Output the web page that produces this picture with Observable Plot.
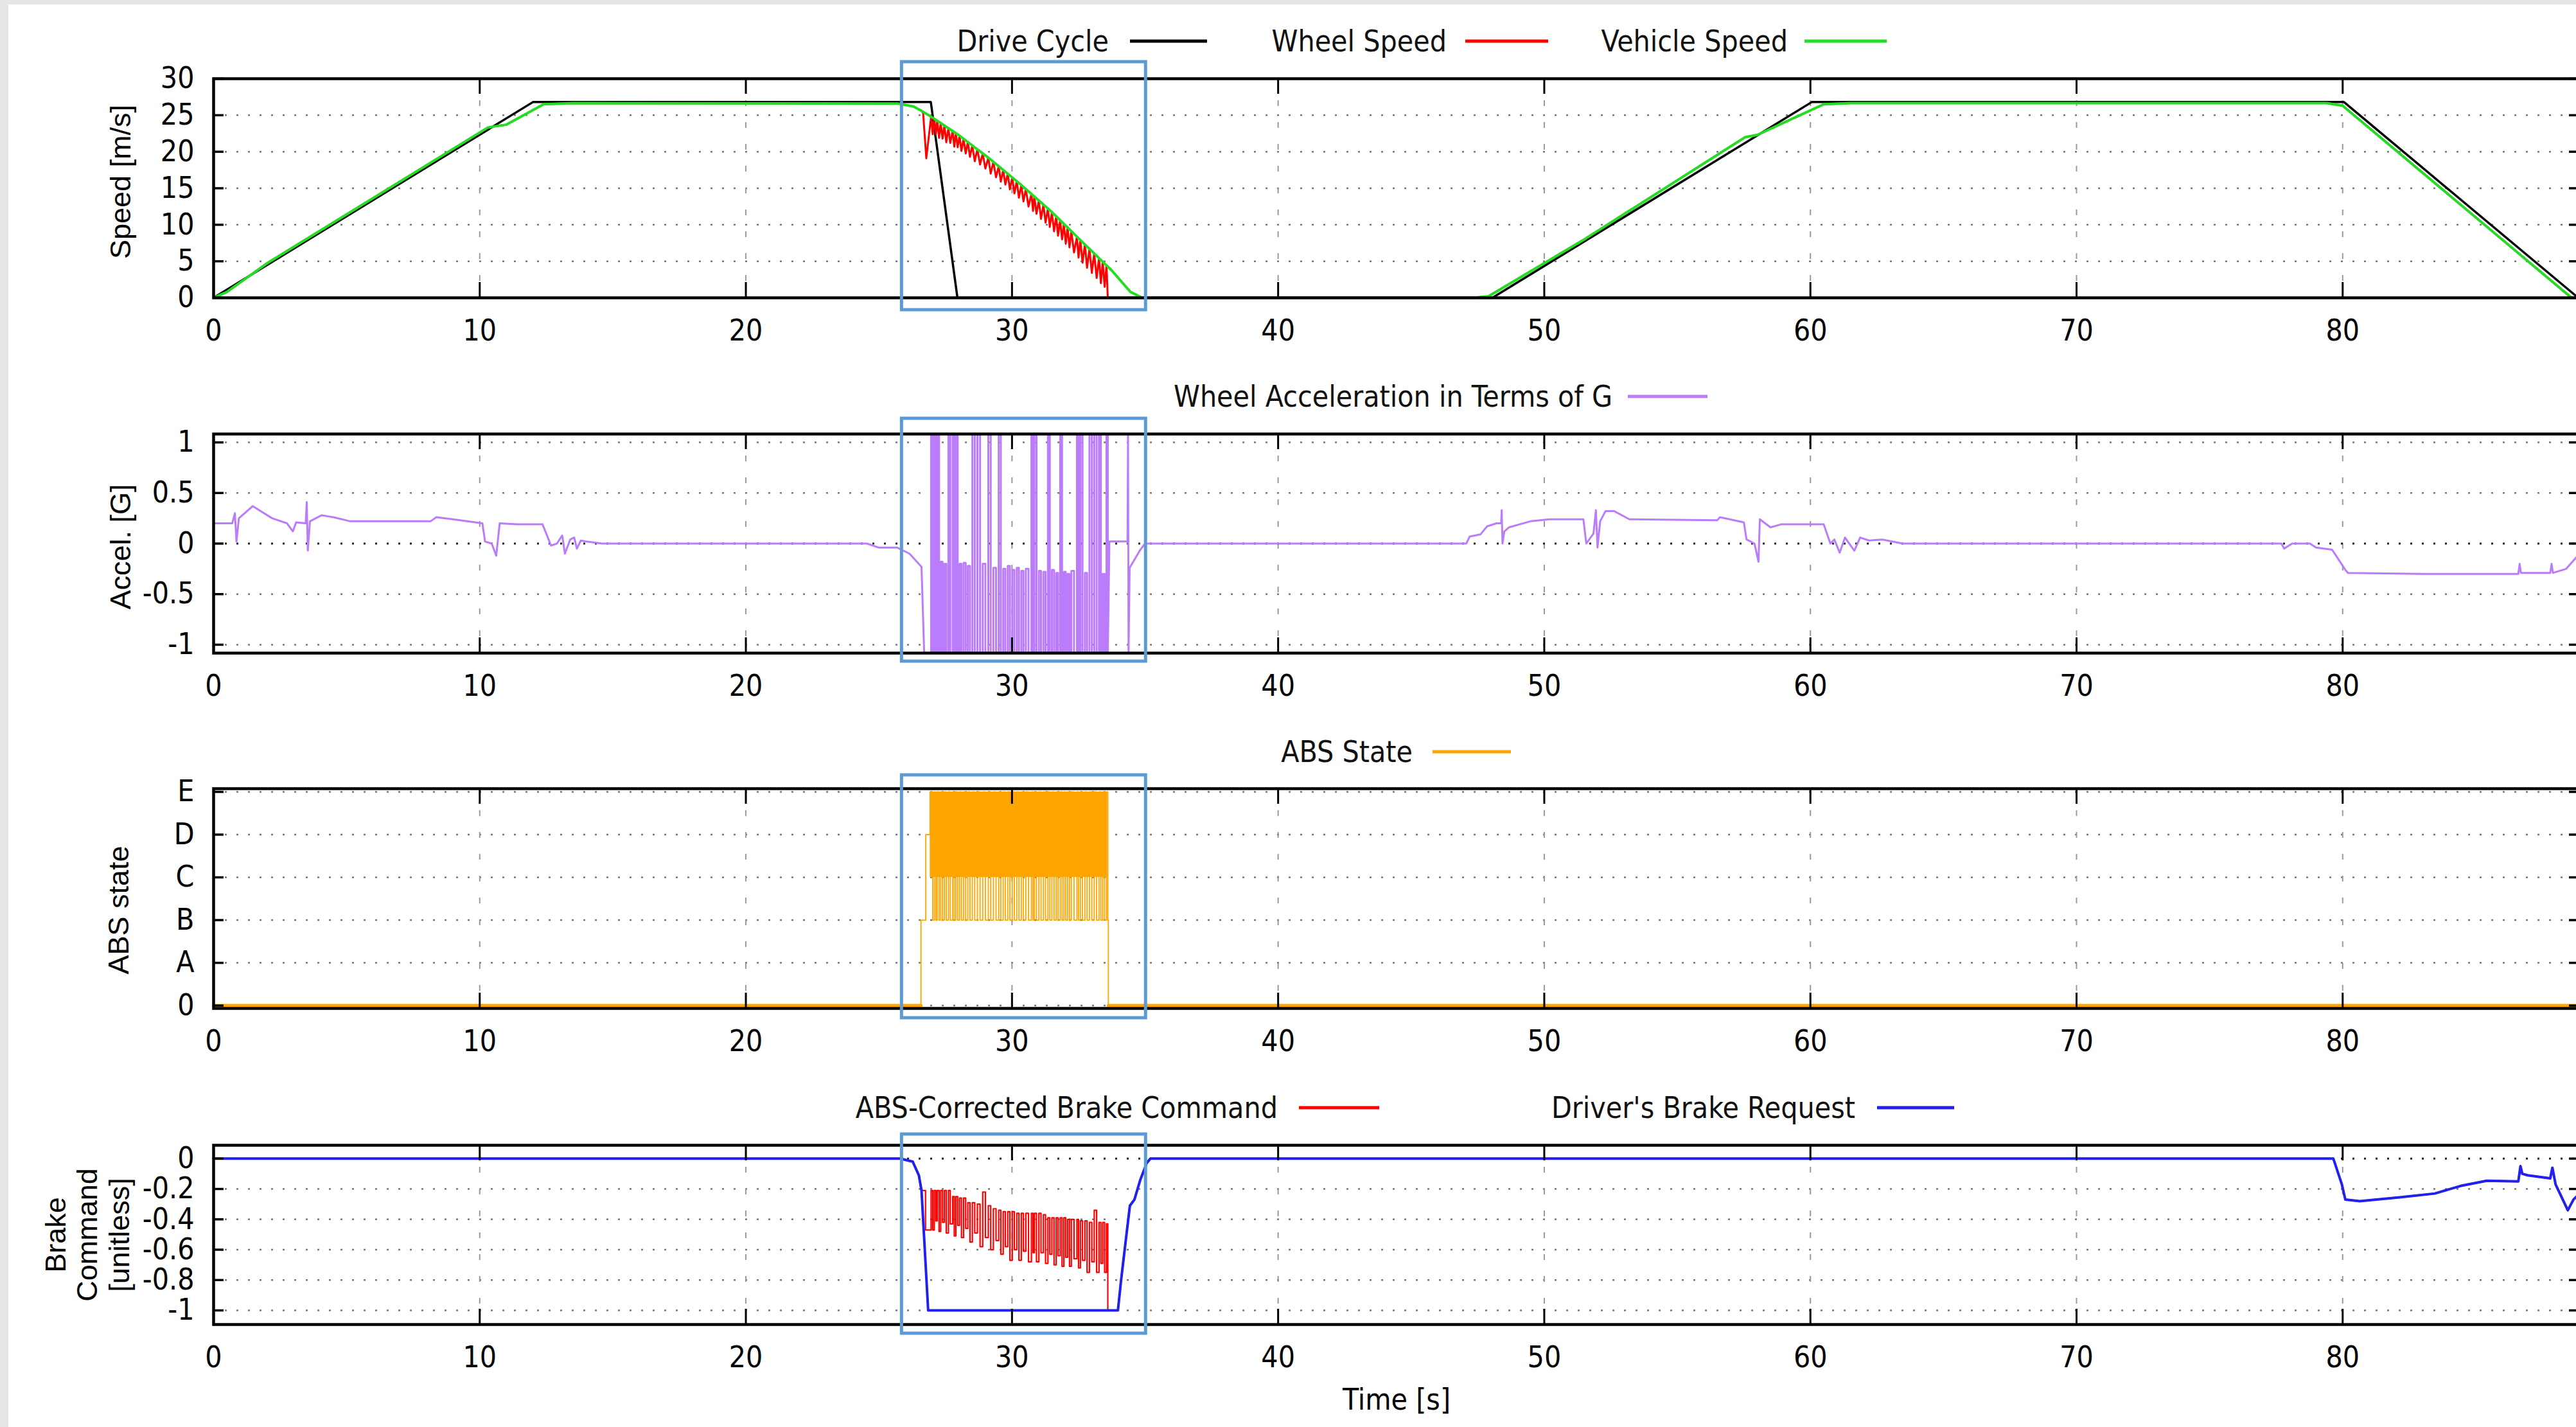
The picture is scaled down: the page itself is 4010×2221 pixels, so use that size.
<!DOCTYPE html>
<html>
<head>
<meta charset="utf-8">
<script src="https://cdn.jsdelivr.net/npm/d3@7"></script>
<script src="https://cdn.jsdelivr.net/npm/@observablehq/plot@0.6"></script>
<style>
  html, body { margin:0; padding:0; width:4010px; height:2221px; overflow:hidden; background:#e6e6e6; }
  #sheet { position:absolute; left:13px; top:7px; width:3997px; height:2214px; background:#ffffff; }
</style>
</head>
<body>
<div id="sheet"></div>
<script>
// ===================== DATA =====================
const xDomain = [0, 88.9];
const xTicks = [0, 10, 20, 30, 40, 50, 60, 70, 80];
const absWindow = [25.86, 35.03];          // highlighted ABS event (blue box), seconds

// ---- Panel 1: speeds [m/s]
const speedTicks = [0, 5, 10, 15, 20, 25, 30];
const speedLegend = ["Drive Cycle", "Wheel Speed", "Vehicle Speed"];
const driveT = [0, 12.0, 26.95, 27.95, 48.05, 60.05, 80.05, 88.85];
const driveV = [0, 26.8, 26.8, 0, 0, 26.8, 26.8, 0];
const vehicleT = [0, 0.5, 2.0, 10.3, 10.6, 11.0, 12.4, 13.5, 25.7, 26.3, 26.6, 26.96, 27.99, 29.14, 30.3, 31.45, 32.6, 33.76, 34.45, 34.9, 47.3, 47.9, 51.55, 57.55, 58.0, 60.5, 61.5, 79.4, 80.0, 88.6, 88.9];
const vehicleV = [0, 0.8, 4.7, 23.3, 23.5, 23.7, 26.5, 26.65, 26.6, 26.2, 25.6, 24.8, 22.3, 19.1, 15.6, 11.9, 7.8, 3.7, 0.8, 0, 0, 0.2, 8.1, 22.0, 22.3, 26.5, 26.65, 26.65, 26.3, 0, 0];

// ABS cycles: start of each cycle and the switch time inside the cycle
const absCycleT = [26.96, 27.08, 27.19, 27.32, 27.46, 27.61, 27.77, 27.89, 28.03, 28.18, 28.34, 28.51, 28.70, 28.90, 29.11, 29.30, 29.50, 29.67, 29.84, 30.01, 30.18, 30.35, 30.52, 30.73, 30.84, 31.01, 31.18, 31.35, 31.50, 31.66, 31.81, 31.95, 32.09, 32.23, 32.44, 32.57, 32.74, 32.91, 33.09, 33.27, 33.41, 33.55];
const absSwitchT = [27.02, 27.14, 27.26, 27.39, 27.53, 27.68, 27.83, 27.96, 28.10, 28.26, 28.42, 28.60, 28.80, 29.00, 29.20, 29.40, 29.58, 29.75, 29.92, 30.09, 30.26, 30.43, 30.62, 30.79, 30.92, 31.09, 31.26, 31.42, 31.58, 31.73, 31.88, 32.02, 32.16, 32.33, 32.50, 32.65, 32.82, 33.00, 33.18, 33.34, 33.48, 33.60];

// wheel speed during ABS: first dip, then per-cycle top / bottom
const wheelDipT = [26.66, 26.78];
const wheelDipV = [25.3, 19.1];
const wheelHi = [24.8, 24.51, 24.24, 23.93, 23.59, 23.22, 22.83, 22.54, 22.19, 21.77, 21.33, 20.86, 20.33, 19.77, 19.18, 18.62, 18.01, 17.5, 16.99, 16.48, 15.96, 15.44, 14.89, 14.22, 13.86, 13.32, 12.77, 12.22, 11.72, 11.15, 10.62, 10.12, 9.62, 9.12, 8.37, 7.91, 7.31, 6.71, 6.07, 5.44, 4.94, 4.44];
const wheelLo = [22.4, 22.4, 21.9, 21.8, 21.3, 21.2, 20.7, 20.6, 20.1, 19.75, 19.3, 18.7, 18.25, 17.7, 17.0, 16.5, 15.9, 15.5, 14.85, 14.3, 13.7, 13.2, 12.5, 11.9, 11.5, 10.8, 10.3, 9.7, 9.1, 8.5, 8.0, 7.4, 6.9, 6.2, 5.5, 4.8, 4.1, 3.4, 2.7, 2.0, 1.5, 0];
const wheelLockT = [33.65];                   // wheel reaches 0 (locked)

// ---- Panel 2: wheel acceleration [G]
const accelTicks = [-1, -0.5, 0, 0.5, 1];
const accelLegend = ["Wheel Acceleration in Terms of G"];
const accelPreT = [0, 0.7, 0.8, 0.86, 0.95, 1.47, 2.2, 2.76, 2.98, 3.1, 3.46, 3.5, 3.54, 3.62, 4.06, 4.5, 5.14, 8.15, 8.37, 9.0, 10.1, 10.2, 10.45, 10.62, 10.75, 11.4, 12.36, 12.68, 12.9, 13.1, 13.2, 13.4, 13.55, 13.65, 13.8, 14.0, 14.6, 24.55, 25.0, 25.69, 26.15, 26.6, 26.7];
const accelPreV = [0.2, 0.2, 0.3, 0.02, 0.25, 0.37, 0.25, 0.2, 0.12, 0.21, 0.2, 0.41, -0.07, 0.22, 0.28, 0.26, 0.22, 0.22, 0.26, 0.24, 0.2, 0.02, 0.0, -0.12, 0.2, 0.19, 0.19, -0.02, 0.0, 0.08, -0.1, 0.04, 0.06, -0.05, 0.03, 0.02, 0, 0, -0.04, -0.04, -0.10, -0.23, -1.08];
const accelHi = [1.08, 1.08, 1.08, -0.18, -0.2, 1.08, 1.08, 1.08, -0.2, -0.19, -0.22, 1.08, 1.08, -0.2, 1.08, -0.24, 1.08, -0.25, -0.22, -0.26, -0.24, -0.27, -0.25, 1.08, 1.08, -0.27, -0.28, 1.08, -0.26, -0.29, 1.08, -0.28, -0.3, -0.27, 1.08, 1.08, -0.29, 1.08, 1.08, 1.08, -0.3, 1.08];
const accelLo = [-1.08];                      // clipped floor during each cycle
const accelPostT = [33.60, 33.66, 34.34, 34.36, 34.38, 34.42, 34.6, 34.8, 35.0, 47.07, 47.2, 47.6, 47.85, 48.2, 48.38, 48.4, 48.43, 48.5, 48.67, 49.48, 50.2, 51.47, 51.58, 51.85, 51.94, 52.0, 52.1, 52.3, 52.63, 53.2, 56.5, 56.6, 57.5, 57.6, 57.9, 58.05, 58.1, 58.5, 58.9, 60.5, 60.75, 60.9, 61.1, 61.3, 61.65, 61.87, 62.2, 62.7, 63.47, 77.7, 77.8, 78.1, 78.77, 79.0, 79.6, 80.1, 80.2, 83.0, 86.6, 86.65, 86.7, 87.8, 87.85, 87.9, 88.4, 88.9];
const accelPostV = [-1.08, 0.02, 0.02, 1.08, -1.08, -0.24, -0.16, -0.07, 0, 0, 0.07, 0.09, 0.17, 0.2, 0.2, 0.33, 0.0, 0.12, 0.16, 0.22, 0.24, 0.24, 0.0, 0.1, 0.33, -0.04, 0.22, 0.32, 0.32, 0.24, 0.23, 0.26, 0.21, 0.04, 0.0, -0.18, 0.24, 0.16, 0.19, 0.19, 0.0, 0.04, -0.09, 0.06, -0.07, 0.06, 0.03, 0.04, 0.0, 0.0, -0.05, 0.0, 0.0, -0.04, -0.06, -0.26, -0.29, -0.3, -0.3, -0.2, -0.29, -0.29, -0.2, -0.29, -0.25, -0.1];

// ---- Panel 3: ABS state
const absTicks = [0, 1, 2, 3, 4, 5];
const absTickLabels = ["0", "A", "B", "C", "D", "E"];
const absLegend = ["ABS State"];
const absEntryT = [0, 26.58, 26.76, 26.92];
const absEntryV = [0, 2, 4, 5];
const absCycleHi = [5];                       // E
const absCycleLo = [2];                       // B
const absDenseT = [26.92, 33.56];             // span where state toggles C..E continuously
const absDenseV = [3, 5];
const absExitT = [33.62, 88.9];
const absExitV = [0, 0];

// ---- Panel 4: brake command [unitless]
const brakeTicks = [0, -0.2, -0.4, -0.6, -0.8, -1];
const brakeLegend = ["ABS-Corrected Brake Command", "Driver's Brake Request"];
const brakeReqT = [0, 25.8, 26.27, 26.5, 26.6, 26.85, 33.98, 34.1, 34.24, 34.43, 34.6, 34.82, 35.06, 35.2, 79.65, 79.97, 80.1, 80.64, 82.15, 83.46, 84.43, 85.41, 86.6, 86.68, 86.75, 86.95, 87.8, 87.88, 88.0, 88.46, 88.67, 88.9];
const brakeReqV = [0, 0, -0.02, -0.11, -0.21, -1.0, -1.0, -0.8, -0.59, -0.31, -0.27, -0.14, -0.03, 0, 0, -0.17, -0.27, -0.28, -0.255, -0.23, -0.18, -0.146, -0.15, -0.05, -0.1, -0.11, -0.13, -0.06, -0.17, -0.34, -0.27, -0.23];
const brakeCmdEntryT = [26.6, 26.75];
const brakeCmdEntryV = [-0.21, -0.47];
const brakeCmdHi = [-0.21, -0.21, -0.21, -0.21, -0.21, -0.21, -0.25, -0.25, -0.26, -0.26, -0.29, -0.29, -0.30, -0.22, -0.31, -0.33, -0.34, -0.35, -0.35, -0.35, -0.36, -0.36, -0.36, -0.36, -0.36, -0.36, -0.37, -0.39, -0.39, -0.39, -0.39, -0.39, -0.40, -0.40, -0.40, -0.41, -0.41, -0.42, -0.34, -0.42, -0.42, -0.43];
const brakeCmdLo = [-0.47, -0.41, -0.48, -0.42, -0.49, -0.43, -0.51, -0.44, -0.52, -0.46, -0.55, -0.49, -0.58, -0.52, -0.60, -0.54, -0.63, -0.58, -0.67, -0.60, -0.67, -0.61, -0.68, -0.62, -0.68, -0.62, -0.69, -0.63, -0.70, -0.64, -0.71, -0.65, -0.71, -0.66, -0.72, -0.67, -0.75, -0.68, -0.75, -0.69, -0.75, -1.0];

// ===================== STYLE / LAYOUT =====================
const COL = {drive: "#000000", wheel: "#ff0000", vehicle: "#22dd22", accel: "#bb7cfc", abs: "#ffa500", cmd: "#ff0000", req: "#2020f0", box: "#5b9bd5"};
const gnuFont = "'DejaVu Sans Condensed','DejaVu Sans',sans-serif";
const armFont = "'Liberation Sans',Arial,sans-serif";
const SVG_W = 4040, M_L = 332, M_R = 25;
const FW = SVG_W - M_L - M_R;

// ===================== TABLES =====================
const zip = (T, V) => T.map((t, i) => ({t, v: V[i]}));
const pick = (arr, i) => arr.length === 1 ? arr[0] : arr[i];
const cycles = (hi, lo) => absCycleT.flatMap((t, i) => [{t, v: pick(hi, i)}, {t: absSwitchT[i], v: pick(lo, i)}]);

const drive = zip(driveT, driveV);
const vehicle = zip(vehicleT, vehicleV);
const wheel = [
  ...vehicle.filter(d => d.t <= 26.6),
  ...zip(wheelDipT, wheelDipV),
  ...cycles(wheelHi, wheelLo),
  {t: wheelLockT[0], v: 0},
  ...vehicle.filter(d => d.t >= 34.9)
];
const accelPre = zip(accelPreT, accelPreV);
const accelAbs = [accelPre[accelPre.length - 1], ...cycles(accelHi, accelLo)];
const accelPost = zip(accelPostT, accelPostV);
const absState = [...zip(absEntryT, absEntryV), ...cycles(absCycleHi, absCycleLo), ...zip(absExitT, absExitV)];
const absBase = [zip(absEntryT.slice(0, 2), [0, 0]), zip(absExitT, absExitV)];
const brakeReq = zip(brakeReqT, brakeReqV);
const cmdPre = brakeReq.filter(d => d.t <= 26.6);
const cmdAbs = [...zip(brakeCmdEntryT, brakeCmdEntryV), ...cycles(brakeCmdHi, brakeCmdLo)];
const cmdPost = [cmdAbs[cmdAbs.length - 1], ...brakeReq.filter(d => d.t > 33.6)];

// ===================== PANELS =====================
function panel(o) {
  const fh = o.height - o.mt - o.mb;
  const marks = [
    Plot.ruleY(o.yTicks.filter(d => d !== 0 || !o.zero), {y: d => d, stroke: "#777", strokeWidth: 2.5, strokeDasharray: "3,15"}),
    Plot.ruleX(xTicks, {x: d => d, stroke: "#999", strokeWidth: 2, strokeDasharray: "9,25"}),
    ...(o.zero ? [Plot.ruleY([0], {stroke: "#222", strokeWidth: 3, strokeDasharray: "3,15"})] : []),
    ...o.marks,
    Plot.tickX(xTicks, {x: d => d, insetTop: fh - 24, stroke: "#000", strokeWidth: 3}),
    Plot.tickX(xTicks, {x: d => d, insetBottom: fh - 24, stroke: "#000", strokeWidth: 3}),
    Plot.tickY(o.yTicks, {y: d => d, insetRight: FW - 16, stroke: "#000", strokeWidth: 3.5}),
    Plot.tickY(o.yTicks, {y: d => d, insetLeft: FW - 16, stroke: "#000", strokeWidth: 3.5}),
    Plot.frame({stroke: "#000", strokeWidth: 4.5}),
    Plot.axisX(xTicks, {tickSize: 0, tickPadding: 34, fontSize: 46, label: null, tickFormat: d => String(d)}),
    Plot.axisY(o.yTicks, {tickSize: 0, tickPadding: 30, fontSize: 46, label: null, tickFormat: o.yFormat || (d => String(d))}),
    Plot.text([o.yLabel], {text: d => d, frameAnchor: "left", textAnchor: "middle", lineAnchor: "middle", rotate: -90, dx: o.ldx, dy: o.ldy, fontFamily: armFont, fontSize: 45, lineHeight: 1.1, fill: "#000"}),
    ...(o.extra || []),
    Plot.rect([absWindow], {x1: d => d[0], x2: d => d[1], insetTop: o.boxTop, insetBottom: o.boxBottom, fill: "none", stroke: COL.box, strokeWidth: 5})
  ];
  const svg = Plot.plot({
    width: SVG_W, height: o.height,
    marginLeft: M_L, marginRight: M_R, marginTop: o.mt, marginBottom: o.mb,
    x: {domain: xDomain},
    y: {domain: o.yDomain},
    marks
  });
  Object.assign(svg.style, {position: "absolute", left: "0px", top: o.top + "px", maxWidth: "none", width: SVG_W + "px", height: o.height + "px",
    background: "transparent", overflow: "visible", fontFamily: gnuFont, fontStretch: "condensed", fontSize: "46px", color: "#000"});
  document.body.appendChild(svg);
}

panel({
  top: 0, height: 560, mt: 122, mb: 97, yDomain: [0, 30], yTicks: speedTicks,
  yLabel: "Speed [m/s]", ldx: -145, ldy: -10, boxTop: -26, boxBottom: -19,
  marks: [
    Plot.line(drive, {x: "t", y: "v", stroke: COL.drive, strokeWidth: 3.5}),
    Plot.line(wheel, {x: "t", y: "v", stroke: COL.wheel, strokeWidth: 3}),
    Plot.line(vehicle, {x: "t", y: "v", stroke: COL.vehicle, strokeWidth: 4})
  ]
});

panel({
  top: 560, height: 560, mt: 115, mb: 104, yDomain: [-1.083, 1.083], yTicks: accelTicks, zero: true,
  yLabel: "Accel. [G]", ldx: -145, ldy: 5, boxTop: -24, boxBottom: -13,
  marks: [
    Plot.line(accelPre, {x: "t", y: "v", stroke: COL.accel, strokeWidth: 3}),
    Plot.line(accelAbs, {x: "t", y: "v", stroke: COL.accel, strokeWidth: 3, curve: "step-after"}),
    Plot.line(accelPost, {x: "t", y: "v", stroke: COL.accel, strokeWidth: 3})
  ]
});

panel({
  top: 1120, height: 560, mt: 107, mb: 111, yDomain: [-0.066, 5.075], yTicks: absTicks,
  yFormat: d => absTickLabels[absTicks.indexOf(d)],
  yLabel: "ABS state", ldx: -148, ldy: 18, boxTop: -21, boxBottom: -15,
  marks: [
    Plot.rect([absDenseT], {x1: d => d[0], x2: d => d[1], y1: absDenseV[0], y2: absDenseV[1], fill: COL.abs}),
    Plot.line(absState, {x: "t", y: "v", stroke: COL.abs, strokeWidth: 1.8, curve: "step-after"}),
    ...absBase.map(seg => Plot.line(seg, {x: "t", y: "v", stroke: COL.abs, strokeWidth: 5}))
  ]
});

panel({
  top: 1680, height: 541, mt: 102, mb: 160, yDomain: [-1.093, 0.088], yTicks: brakeTicks, zero: true,
  yLabel: "Brake\nCommand\n[unitless]", ldx: -197, ldy: 0, boxTop: -17, boxBottom: -14,
  marks: [
    Plot.line(cmdPre, {x: "t", y: "v", stroke: COL.cmd, strokeWidth: 3}),
    Plot.line(cmdAbs, {x: "t", y: "v", stroke: COL.cmd, strokeWidth: 2.2, curve: "step-after"}),
    Plot.line(cmdPost, {x: "t", y: "v", stroke: COL.cmd, strokeWidth: 3}),
    Plot.line(brakeReq, {x: "t", y: "v", stroke: COL.req, strokeWidth: 4})
  ],
  extra: [Plot.text(["Time [s]"], {text: d => d, frameAnchor: "bottom", dy: 132, fontSize: 46, fill: "#000"})]
});

// ===================== LEGENDS (above each plot) =====================
const legendRows = [
  {y: 64,   labels: speedLegend, colors: [COL.drive, COL.wheel, COL.vehicle], slots: [[1726, 1759, 1879], [2252, 2281, 2410], [2783, 2809, 2937]]},
  {y: 617,  labels: accelLegend, colors: [COL.accel], slots: [[2510, 2534, 2658]]},
  {y: 1170, labels: absLegend, colors: [COL.abs], slots: [[2199, 2230, 2352]]},
  {y: 1724, labels: brakeLegend, colors: [COL.cmd, COL.req], slots: [[1989, 2022, 2147], [2888, 2922, 3042]]}
];
const leg = d3.create("svg").attr("width", 4010).attr("height", 2221)
  .style("position", "absolute").style("left", "0px").style("top", "0px").style("pointer-events", "none");
for (const row of legendRows) {
  row.labels.forEach((label, i) => {
    const [end, x1, x2] = row.slots[i];
    leg.append("text").attr("x", end).attr("y", row.y + 16).attr("text-anchor", "end")
      .style("font-family", gnuFont).style("font-stretch", "condensed").style("font-size", "46px").attr("fill", "#111").text(label);
    leg.append("line").attr("x1", x1).attr("x2", x2).attr("y1", row.y).attr("y2", row.y)
      .attr("stroke", row.colors[i]).attr("stroke-width", 5);
  });
}
document.body.appendChild(leg.node());
</script>
</body>
</html>
